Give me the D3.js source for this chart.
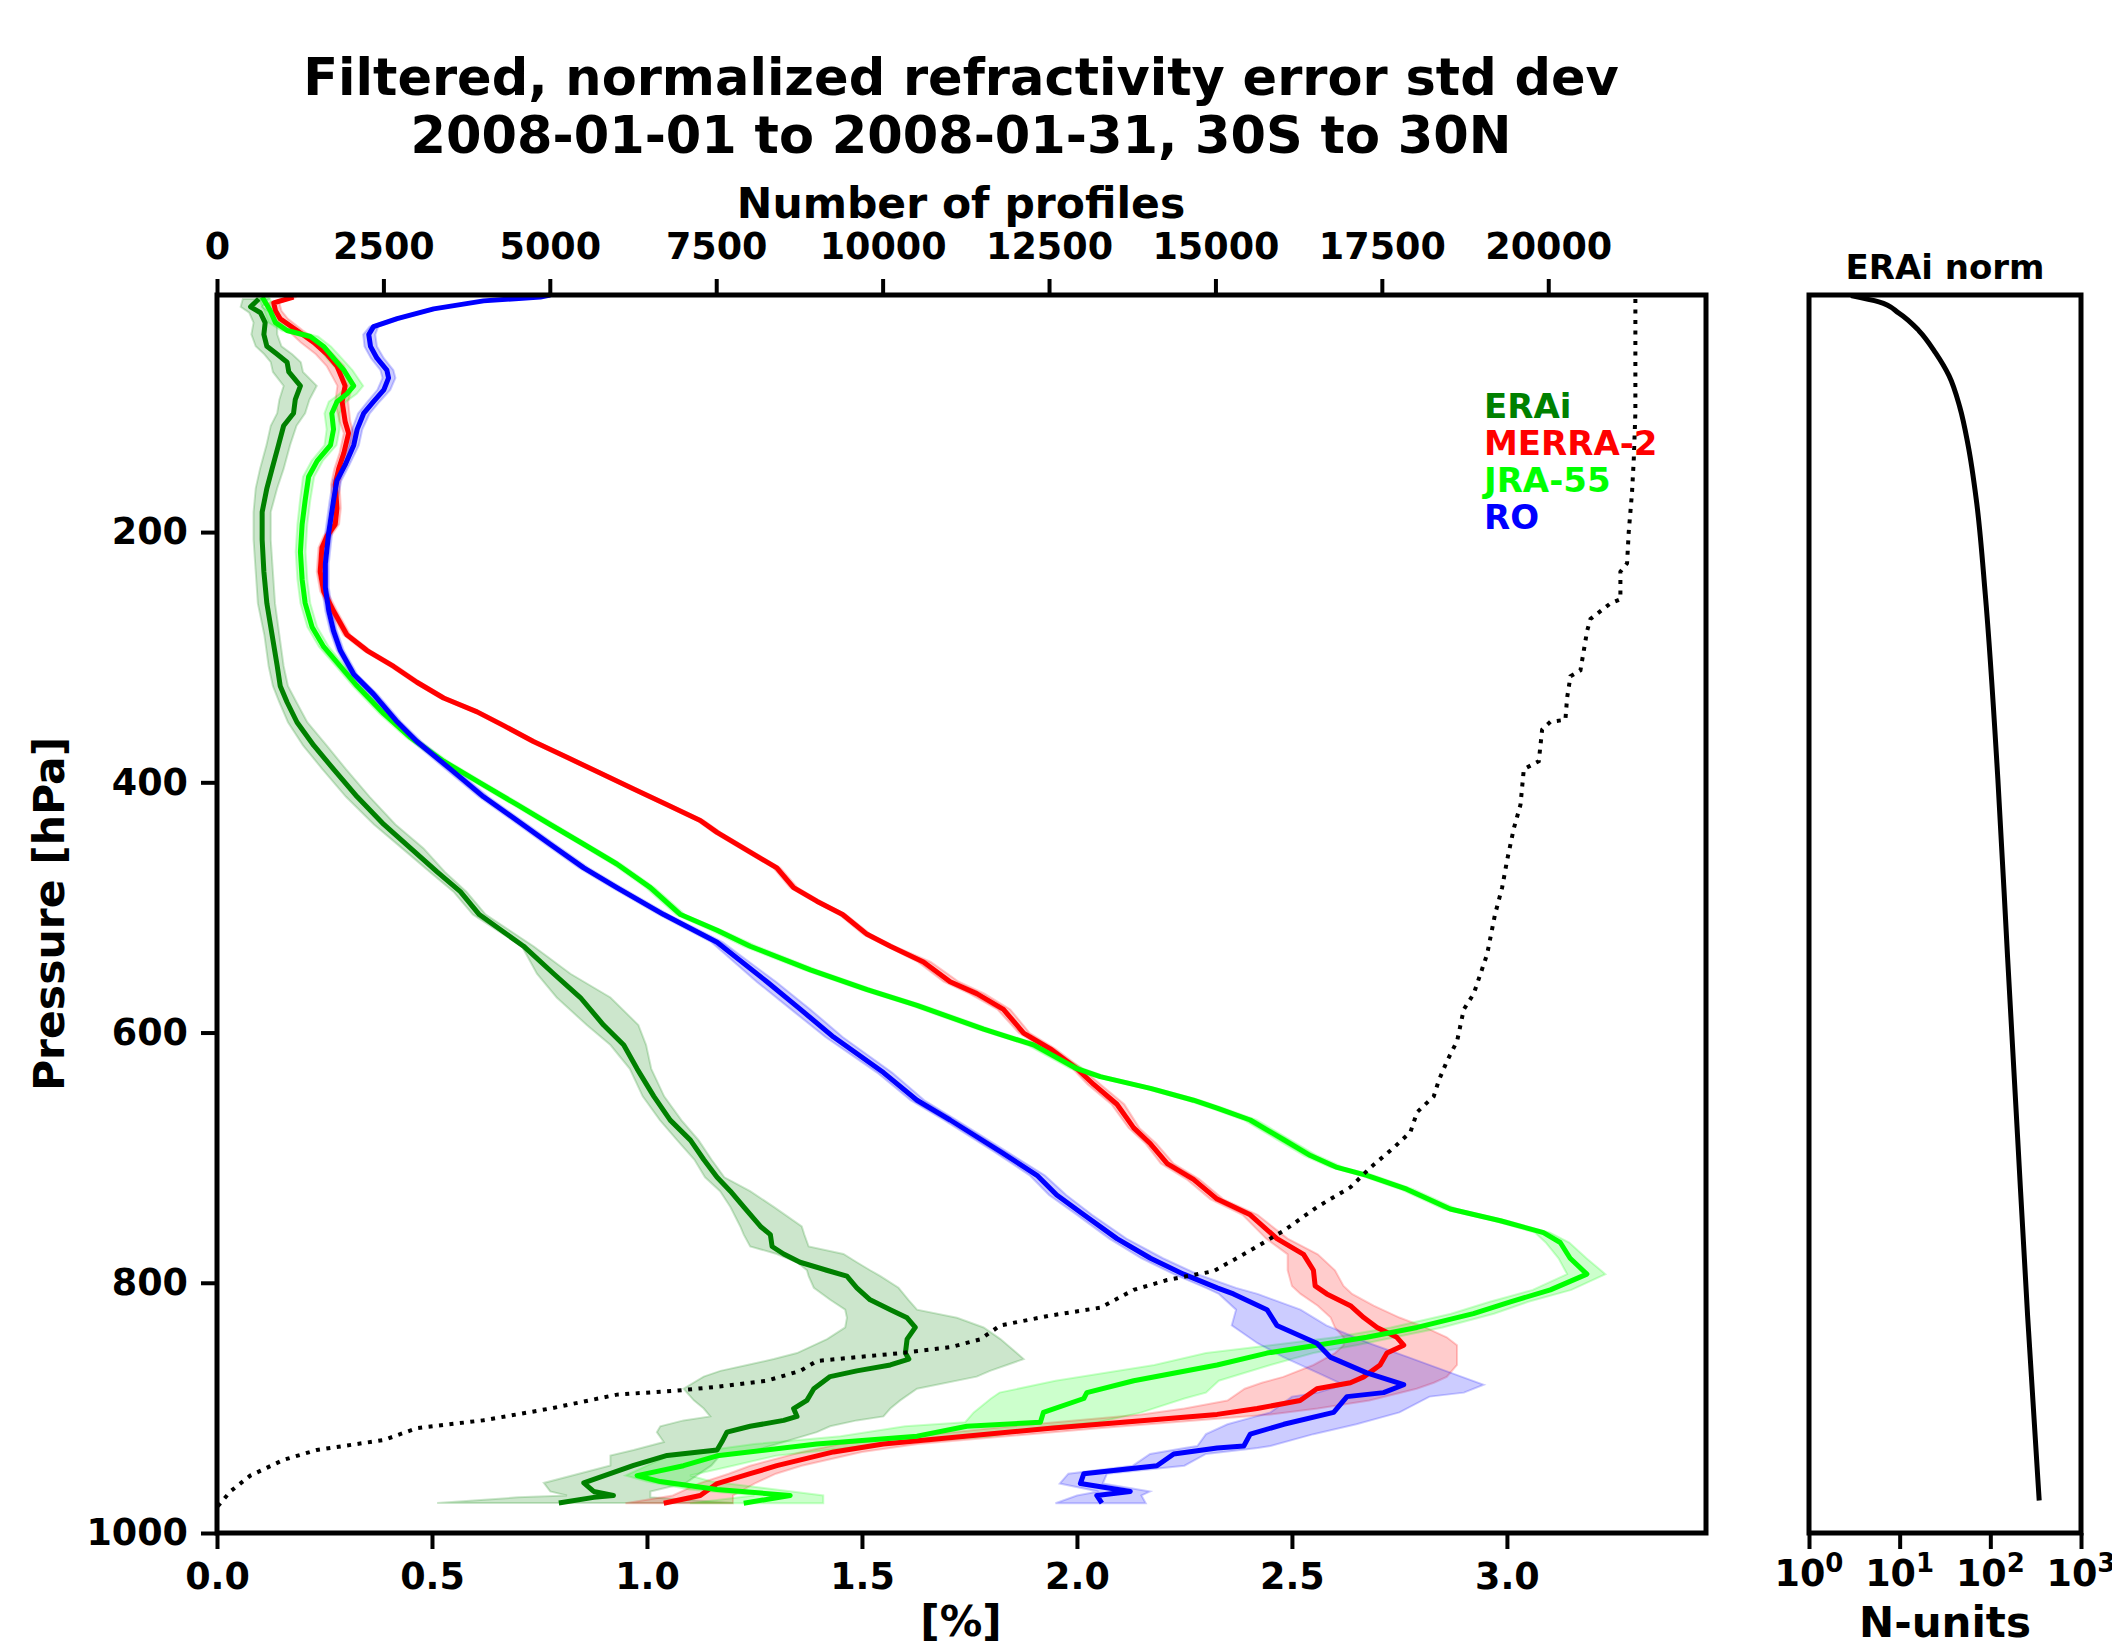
<!DOCTYPE html>
<html>
<head>
<meta charset="utf-8">
<script src="https://cdn.jsdelivr.net/npm/d3@7"></script>
<style>
  body { margin: 0; background: #fff; }
  svg text { font-family: "DejaVu Sans", sans-serif; font-weight: bold; }
</style>
</head>
<body>
<svg id="chart" width="2112" height="1648"></svg>
<script>
// rows are [pressure hPa, mean %, band low %, band high %]
const erai = [
  [13.7,0.097,0.06,0.12],[20,0.078,0.055,0.105],[24.7,0.101,0.075,0.125],[32.6,0.112,0.085,0.14],
  [42,0.109,0.08,0.14],[51.5,0.116,0.09,0.15],[57.9,0.14,0.11,0.175],[64.2,0.163,0.125,0.195],
  [72,0.167,0.13,0.2],[83.1,0.194,0.155,0.232],[94.2,0.182,0.145,0.215],[105,0.178,0.14,0.205],
  [115,0.155,0.125,0.185],[130.5,0.143,0.115,0.17],[149.5,0.128,0.1,0.155],[165,0.116,0.09,0.14],
  [184,0.105,0.085,0.125],[206,0.105,0.085,0.125],[231.6,0.109,0.09,0.13],[257,0.116,0.095,0.135],
  [282,0.128,0.11,0.145],[307,0.14,0.12,0.155],[323,0.147,0.13,0.165],[336,0.163,0.145,0.185],
  [352,0.186,0.165,0.21],[370.5,0.225,0.2,0.255],[389.5,0.271,0.245,0.3],[411.6,0.326,0.3,0.355],
  [433.7,0.388,0.365,0.415],[452.6,0.45,0.43,0.48],[471.6,0.512,0.495,0.53],[487.4,0.566,0.55,0.58],
  [505.7,0.61,0.595,0.625],[531,0.713,0.709,0.736],[553,0.783,0.744,0.822],[572,0.845,0.79,0.915],
  [594,0.899,0.86,0.98],[610,0.946,0.915,0.998],[629,0.977,0.96,1.01],[651,1.016,0.99,1.04],
  [670,1.054,1.03,1.08],[686,1.101,1.07,1.12],[701.5,1.132,1.11,1.15],[715.7,1.163,1.135,1.18],
  [726.8,1.194,1.17,1.24],[739.4,1.225,1.194,1.295],[755,1.264,1.217,1.36],[761.5,1.287,1.225,1.366],
  [771,1.291,1.24,1.376],[777,1.318,1.302,1.457],[783.6,1.356,1.349,1.488],[790,1.418,1.372,1.519],
  [794.7,1.465,1.376,1.543],[804,1.488,1.388,1.585],[813.6,1.519,1.426,1.608],[821.5,1.566,1.461,1.628],
  [828,1.605,1.465,1.721],[835.7,1.624,1.461,1.783],[845,1.605,1.419,1.822],[856.2,1.601,1.349,1.86],
  [861,1.609,1.295,1.876],[865.7,1.566,1.233,1.837],[870.4,1.488,1.171,1.798],[875,1.426,1.132,1.767],
  [884.7,1.388,1.085,1.628],[894,1.372,1.109,1.589],[900.5,1.341,1.132,1.566],[906.8,1.349,1.147,1.55],
  [910,1.318,1.085,1.488],[914.7,1.24,1.031,1.426],[919.4,1.186,1.023,1.395],[927.3,1.174,1.039,1.318],
  [933.6,1.163,0.969,1.256],[938,1.047,0.915,1.17],[946,0.969,0.915,1.15],[960,0.853,0.76,1.09],
  [966.8,0.876,0.775,1.008],[970,0.922,0.814,1.008],[971.5,0.876,0.7,1.008],[976,0.795,0.512,1.2]
];

const merra = [
  [12.1,0.178,0.17,0.185],[16.8,0.132,0.12,0.145],[23.1,0.136,0.125,0.15],[29.5,0.147,0.135,0.165],
  [38.9,0.186,0.165,0.2],[48.4,0.225,0.195,0.24],[57.9,0.256,0.23,0.27],[67.3,0.279,0.255,0.295],
  [83.1,0.298,0.28,0.315],[95.8,0.291,0.275,0.305],[111.6,0.298,0.285,0.31],[121,0.306,0.295,0.318],
  [136.8,0.295,0.285,0.305],[149.4,0.283,0.273,0.293],[162,0.275,0.265,0.285],[181,0.279,0.27,0.288],
  [193.7,0.275,0.266,0.284],[203.1,0.256,0.248,0.265],[212.6,0.244,0.236,0.253],[231.6,0.24,0.232,0.248],
  [247.3,0.248,0.24,0.256],[263.1,0.271,0.263,0.279],[282.1,0.302,0.294,0.31],[294.7,0.349,0.341,0.357],
  [307.4,0.411,0.403,0.419],[320,0.465,0.457,0.473],[332.6,0.527,0.519,0.535],[343.7,0.605,0.597,0.613],
  [354.7,0.667,0.659,0.675],[367.4,0.736,0.728,0.744],[380,0.814,0.806,0.822],[392.6,0.891,0.883,0.899],
  [405.3,0.969,0.961,0.977],[418,1.047,1.039,1.055],[430.5,1.124,1.116,1.132],[440,1.163,1.155,1.171],
  [455.8,1.24,1.232,1.248],[468.4,1.302,1.294,1.31],[484.2,1.341,1.333,1.35],[495,1.395,1.387,1.403],
  [505.7,1.455,1.447,1.463],[521.5,1.512,1.503,1.52],[531,1.566,1.557,1.575],[543.6,1.643,1.63,1.66],
  [559.4,1.705,1.69,1.725],[568.9,1.767,1.75,1.785],[581.5,1.829,1.815,1.845],[600.4,1.876,1.865,1.89],
  [613,1.938,1.925,1.95],[628.9,2.0,1.99,2.012],[641.5,2.039,2.025,2.055],[657.3,2.093,2.08,2.11],
  [676.2,2.132,2.12,2.145],[688.9,2.171,2.16,2.185],[704.7,2.21,2.195,2.225],[717.3,2.271,2.255,2.285],
  [733.1,2.326,2.31,2.34],[745.7,2.403,2.385,2.42],[764.7,2.465,2.44,2.49],[777.3,2.527,2.49,2.56],
  [790,2.55,2.49,2.6],[802.5,2.554,2.5,2.62],[808.9,2.581,2.52,2.64],[818.3,2.636,2.56,2.69],
  [827.8,2.667,2.59,2.75],[835.7,2.698,2.6,2.81],[843.6,2.744,2.62,2.86],[849.9,2.76,2.62,2.884],
  [856.2,2.721,2.6,2.884],[865.7,2.705,2.55,2.884],[875.2,2.667,2.48,2.86],[879.9,2.636,2.43,2.83],
  [884.7,2.558,2.39,2.79],[894.1,2.519,2.35,2.68],[900.5,2.419,2.25,2.56],[905.2,2.326,2.15,2.45],
  [916.2,1.938,1.8,2.05],[928.9,1.55,1.45,1.63],[935.2,1.434,1.36,1.5],[946.2,1.302,1.24,1.36],
  [952.6,1.24,1.19,1.3],[960.5,1.163,1.12,1.25],[970,1.124,1.06,1.2],[976.2,1.039,0.95,1.2]
];

const jra = [
  [12.1,0.105,0.095,0.12],[23.1,0.124,0.11,0.14],[32.6,0.136,0.12,0.155],[38.9,0.163,0.15,0.18],
  [43.7,0.217,0.2,0.235],[51.6,0.248,0.235,0.265],[61,0.271,0.255,0.29],[70.5,0.295,0.28,0.315],
  [83.1,0.318,0.3,0.34],[89.5,0.302,0.285,0.325],[95.8,0.279,0.26,0.3],[105.2,0.267,0.25,0.285],
  [117.9,0.271,0.255,0.285],[130.5,0.264,0.25,0.278],[143.1,0.233,0.22,0.246],[155.8,0.213,0.2,0.226],
  [174.7,0.205,0.193,0.217],[193.7,0.198,0.187,0.21],[215.8,0.194,0.183,0.206],[237.9,0.198,0.187,0.21],
  [256.8,0.205,0.194,0.217],[275.8,0.221,0.21,0.233],[291.6,0.248,0.237,0.26],[307.4,0.287,0.277,0.298],
  [323.1,0.326,0.316,0.337],[345.2,0.388,0.378,0.398],[364.2,0.45,0.44,0.46],[383.1,0.527,0.517,0.537],
  [399,0.605,0.595,0.615],[417.9,0.698,0.688,0.708],[433.7,0.775,0.765,0.785],[449.5,0.853,0.843,0.863],
  [465.3,0.93,0.92,0.94],[484.2,1.008,0.998,1.018],[505.7,1.078,1.068,1.088],[518.3,1.163,1.15,1.175],
  [531,1.24,1.225,1.255],[549.9,1.38,1.365,1.395],[565.7,1.512,1.497,1.527],[578.3,1.628,1.613,1.643],
  [597.3,1.783,1.768,1.798],[609.9,1.899,1.884,1.914],[628.9,2.0,1.985,2.015],[635.2,2.054,2.04,2.068],
  [644.6,2.171,2.156,2.186],[654.1,2.271,2.256,2.286],[660.4,2.326,2.311,2.341],[669.9,2.403,2.388,2.418],
  [685.7,2.481,2.466,2.496],[698.3,2.543,2.528,2.558],[707.8,2.605,2.59,2.62],[714.1,2.674,2.659,2.689],
  [725.2,2.767,2.752,2.782],[741,2.868,2.853,2.883],[750.4,2.985,2.97,3.0],[759.9,3.085,3.065,3.1],
  [767.8,3.124,3.09,3.145],[780.4,3.147,3.12,3.185],[793.1,3.186,3.14,3.229],[805.7,3.101,3.06,3.15],
  [815.2,3.008,2.96,3.05],[824.7,2.922,2.87,2.97],[835.7,2.791,2.73,2.85],[843.6,2.674,2.6,2.74],
  [849.9,2.558,2.45,2.65],[856.2,2.442,2.3,2.55],[865.7,2.326,2.18,2.45],[878.3,2.132,1.95,2.33],
  [887.8,2.023,1.82,2.3],[892.5,2.016,1.8,2.25],[903.6,1.922,1.76,2.15],[911.5,1.915,1.74,2.05],
  [914.7,1.744,1.6,1.95],[922.6,1.628,1.45,1.8],[928.9,1.395,1.25,1.55],[938.3,1.163,1.05,1.3],
  [946.2,1.085,1.0,1.2],[954.1,0.977,0.95,1.1],[958.9,1.031,1.0,1.15],[965.2,1.163,1.1,1.3],
  [970,1.333,1.25,1.41],[976.2,1.225,1.1,1.41]
];

const ro = [
  [10.5,0.775,0.77,0.78],[12.1,0.752,0.745,0.76],[15.2,0.62,0.61,0.63],[21.6,0.504,0.495,0.515],
  [29.4,0.419,0.41,0.43],[35.8,0.364,0.355,0.375],[42.1,0.353,0.34,0.368],[51.6,0.357,0.343,0.372],
  [61,0.372,0.358,0.388],[70.5,0.395,0.38,0.41],[76.8,0.399,0.385,0.415],[86.3,0.388,0.373,0.403],
  [95.8,0.364,0.35,0.378],[105.2,0.341,0.328,0.355],[117.9,0.326,0.314,0.338],[130.5,0.318,0.307,0.33],
  [146.3,0.298,0.288,0.308],[158.9,0.279,0.27,0.289],[174.7,0.271,0.262,0.28],[200,0.26,0.252,0.268],
  [225.2,0.252,0.244,0.26],[244.2,0.252,0.244,0.26],[263.1,0.26,0.252,0.268],[279,0.271,0.263,0.279],
  [294.7,0.287,0.279,0.295],[313.7,0.318,0.31,0.326],[329.5,0.364,0.355,0.373],[351.6,0.419,0.41,0.428],
  [367.4,0.465,0.455,0.475],[389.5,0.543,0.532,0.554],[411.6,0.62,0.609,0.631],[430.5,0.698,0.687,0.709],
  [449.5,0.775,0.764,0.786],[468.4,0.853,0.842,0.864],[484.2,0.93,0.919,0.941],[505.7,1.039,1.028,1.05],
  [527.8,1.163,1.15,1.176],[559.4,1.279,1.255,1.3],[581.5,1.357,1.335,1.38],[603.6,1.434,1.415,1.455],
  [632,1.55,1.535,1.57],[654.1,1.628,1.613,1.645],[669.9,1.705,1.69,1.72],[695.2,1.822,1.807,1.837],
  [714.1,1.907,1.89,1.925],[729.9,1.953,1.935,1.975],[745.7,2.016,2.0,2.035],[764.7,2.093,2.075,2.115],
  [780.4,2.171,2.15,2.2],[793.1,2.248,2.225,2.28],[804.1,2.326,2.3,2.37],[808.9,2.364,2.33,2.42],
  [821.5,2.442,2.37,2.52],[834.1,2.465,2.36,2.58],[848.3,2.558,2.42,2.68],[859.4,2.589,2.48,2.77],
  [872,2.674,2.56,2.87],[881.5,2.76,2.62,2.946],[887.8,2.713,2.56,2.9],[891,2.628,2.5,2.82],
  [903.6,2.597,2.45,2.75],[913.1,2.481,2.35,2.65],[921,2.403,2.3,2.55],[930.5,2.388,2.28,2.45],
  [932,2.326,2.25,2.42],[936.8,2.225,2.17,2.3],[946.2,2.186,2.13,2.25],[952.6,2.016,1.98,2.07],
  [960.5,2.008,1.96,2.06],[966.8,2.124,2.05,2.17],[970,2.046,2.0,2.15],[976.2,2.058,1.95,2.16]
];

// [pressure hPa, number of profiles]
const profileCount = [
  [13.7,21309],[105,21309],[143,21284],[168,21259],[200,21209],[225,21184],[231.6,21084],[253.7,21084],
  [257,20934],[269.5,20634],[279,20584],[294.7,20534],[310.5,20484],[315.2,20334],[332.6,20283],
  [350,20258],[351.6,20033],[357.9,19908],[383.1,19858],[389.5,19633],[417.9,19583],[436.8,19483],
  [462,19383],[484.2,19307],[505.7,19200],[537.3,19082],[553.1,18982],[568.9,18881],[581.5,18731],
  [606.8,18631],[622.5,18481],[638.3,18356],[651,18280],[663.6,18030],[679.4,17930],[692,17680],
  [707.8,17330],[723.6,17029],[739.4,16528],[758.3,16028],[774.1,15527],[790.7,14974],[797.8,14273],
  [805.7,13772],[819.9,13271],[826.2,12520],[834.1,11768],[845.2,11468],[851.5,11017],[856.2,10266],
  [862.5,9014],[870.4,8763],[878.3,8262],[883.1,7512],[886.2,6911],[889.4,6010],[900.5,5008],
  [909.9,4006],[916.2,3005],[925.7,2504],[933.6,1502],[941.5,1002],[954.1,501],[966.8,200],[979.4,0]
];

// [pressure hPa, N-units]
const eraiNorm = [
  [11,2.9],[16,5.9],[25,9.8],[39,16.3],[57,25],[75,35],[100,46],[131,57],[174,70],
  [250,88],[397,121],[540,155],[684,200],[827,258],[974,346]
];

const seriesNames = ["ERAi", "MERRA-2", "JRA-55", "RO"];
const seriesColors = ["#008000", "#ff0000", "#00ff00", "#0000ff"];
const seriesData = [erai, merra, jra, ro];

const pctTicks = [0, 0.5, 1.0, 1.5, 2.0, 2.5, 3.0];
const countTicks = [0, 2500, 5000, 7500, 10000, 12500, 15000, 17500, 20000];
const pressureTicks = [200, 400, 600, 800, 1000];
const normTicks = [1, 10, 100, 1000];

const svg = d3.select("#chart");

const plotLeft = 217, plotRight = 1706, plotTop = 295, plotBottom = 1533;
const nLeft = 1809, nRight = 2081;
const tickFont = 36.5;

const x = d3.scaleLinear().domain([0, 3.463]).range([plotLeft, plotRight]);
const xTop = d3.scaleLinear().domain([0, 22370]).range([plotLeft, plotRight]);
const y = d3.scaleLinear().domain([10.5, 1000]).range([plotTop, plotBottom]);
const xN = d3.scaleLog().domain([1, 1000]).range([nLeft, nRight]);

function styleAxis(g, size) {
  g.select(".domain").remove();
  g.selectAll(".tick line").attr("stroke", "#000").attr("stroke-width", 4);
  g.selectAll(".tick text")
    .attr("fill", "#000")
    .style("font-size", size + "px")
    .style("font-family", "DejaVu Sans")
    .style("font-weight", "bold");
}

// bands
const plot = svg.append("g");
seriesData.forEach(function(rows, i) {
  const band = d3.area()
    .y(d => y(d[0]))
    .x0(d => x(d[2]))
    .x1(d => x(d[3]));
  plot.append("path")
    .attr("d", band(rows))
    .attr("fill", seriesColors[i])
    .attr("fill-opacity", 0.2)
    .attr("stroke", seriesColors[i])
    .attr("stroke-opacity", 0.2)
    .attr("stroke-width", 2);
});

// mean lines
seriesData.forEach(function(rows, i) {
  const line = d3.line().x(d => x(d[1])).y(d => y(d[0]));
  plot.append("path")
    .attr("d", line(rows))
    .attr("fill", "none")
    .attr("stroke", seriesColors[i])
    .attr("stroke-width", 5)
    .attr("stroke-linejoin", "round");
});

// number of profiles (top axis)
plot.append("path")
  .attr("d", d3.line().x(d => xTop(d[1])).y(d => y(d[0]))(profileCount))
  .attr("fill", "none")
  .attr("stroke", "#000")
  .attr("stroke-width", 4)
  .attr("stroke-dasharray", "4,6.5");

// frame
svg.append("rect")
  .attr("x", plotLeft).attr("y", plotTop)
  .attr("width", plotRight - plotLeft).attr("height", plotBottom - plotTop)
  .attr("fill", "none").attr("stroke", "#000").attr("stroke-width", 5);

svg.append("g")
  .attr("transform", `translate(0,${plotBottom})`)
  .call(d3.axisBottom(x).tickValues(pctTicks).tickFormat(d3.format(".1f")).tickSize(16).tickPadding(14))
  .call(g => styleAxis(g, tickFont));

svg.append("g")
  .attr("transform", `translate(0,${plotTop})`)
  .call(d3.axisTop(xTop).tickValues(countTicks).tickFormat(d => String(d)).tickSize(16).tickPadding(20))
  .call(g => styleAxis(g, tickFont));

svg.append("g")
  .attr("transform", `translate(${plotLeft},0)`)
  .call(d3.axisLeft(y).tickValues(pressureTicks).tickFormat(d => String(d)).tickSize(16).tickPadding(13))
  .call(g => styleAxis(g, tickFont));

// legend texts
seriesNames.forEach(function(name, i) {
  svg.append("text")
    .attr("x", 1484)
    .attr("y", 418 + i * 37)
    .attr("fill", seriesColors[i])
    .style("font-size", "34px")
    .text(name);
});

// titles and labels
svg.append("text").attr("x", 961).attr("y", 95).attr("text-anchor", "middle")
  .style("font-size", "51px").text("Filtered, normalized refractivity error std dev");
svg.append("text").attr("x", 961).attr("y", 153).attr("text-anchor", "middle")
  .style("font-size", "51px").text("2008-01-01 to 2008-01-31, 30S to 30N");
svg.append("text").attr("x", 961).attr("y", 218).attr("text-anchor", "middle")
  .style("font-size", "42.5px").text("Number of profiles");
svg.append("text").attr("x", 961).attr("y", 1636).attr("text-anchor", "middle")
  .style("font-size", "42.5px").text("[%]");
svg.append("text")
  .attr("transform", `translate(64,${(plotTop + plotBottom) / 2}) rotate(-90)`)
  .attr("text-anchor", "middle")
  .style("font-size", "42.5px").text("Pressure [hPa]");

// right panel: ERAi norm
svg.append("path")
  .attr("d", d3.line().curve(d3.curveMonotoneY).x(d => xN(d[1])).y(d => y(d[0]))(eraiNorm))
  .attr("fill", "none")
  .attr("stroke", "#000")
  .attr("stroke-width", 5);

svg.append("rect")
  .attr("x", nLeft).attr("y", plotTop)
  .attr("width", nRight - nLeft).attr("height", plotBottom - plotTop)
  .attr("fill", "none").attr("stroke", "#000").attr("stroke-width", 5);

svg.append("g")
  .attr("transform", `translate(0,${plotBottom})`)
  .call(d3.axisBottom(xN).tickValues(normTicks).tickFormat("").tickSize(16))
  .call(g => styleAxis(g, tickFont));

normTicks.forEach(function(v) {
  const t = svg.append("text")
    .attr("x", xN(v))
    .attr("y", 1586)
    .attr("text-anchor", "middle")
    .style("font-size", tickFont + "px");
  t.append("tspan").text("10");
  t.append("tspan").attr("dy", -14).style("font-size", "26px").text(String(Math.round(Math.log10(v))));
});

svg.append("text").attr("x", (nLeft + nRight) / 2).attr("y", 279).attr("text-anchor", "middle")
  .style("font-size", "34px").text("ERAi norm");
svg.append("text").attr("x", (nLeft + nRight) / 2).attr("y", 1637).attr("text-anchor", "middle")
  .style("font-size", "42px").text("N-units");
</script>
</body>
</html>
